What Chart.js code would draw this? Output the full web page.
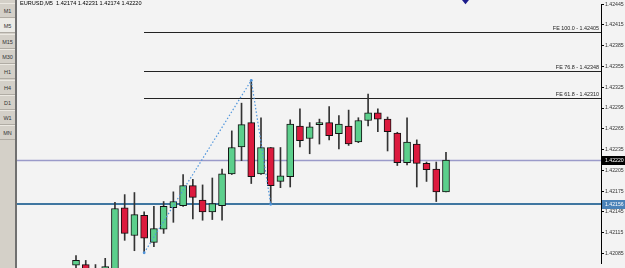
<!DOCTYPE html>
<html><head><meta charset="utf-8">
<script src="https://cdn.jsdelivr.net/npm/chart.js@4/dist/chart.umd.min.js"></script>
<style>
html,body{margin:0;padding:0;background:#f3f3f3;}
#wrap{position:relative;width:625px;height:268px;overflow:hidden;background:#f3f3f3;}
canvas{position:absolute;left:0;top:0;}
#tb{position:absolute;left:0;top:0;width:15px;height:268px;background:#d4d0c8;border-right:2px solid #707070;font-family:"Liberation Sans",sans-serif;}
.b{position:absolute;left:0;width:15px;height:14px;font-size:5.5px;color:#333;text-align:center;line-height:14px;border-bottom:1px solid #b0aca4;border-top:1px solid #ece9e2;box-sizing:border-box;}
.b.sel{background:#ecebe6;}
</style></head>
<body>
<div id="wrap">
<canvas id="c" width="625" height="268"></canvas>
<div id="tb"></div>
</div>
<script>
// ---- data ----
const periods = ["M1","M5","M15","M30","H1","H4","D1","W1","MN"];
const header = "EURUSD,M5  1.42174 1.42231 1.42174 1.42220";
const candleIdx = [0,1,2,3,4,5,6,7,8,9,10,11,12,13,14,15,16,17,18,19,20,21,22,23,24,25,26,27,28,29,30,31,32,33,34,35,36,37,38];
const opens  = [1.42068,1.42069,1.42048,1.42045,1.42040,1.42151,1.42111,1.42140,1.42101,1.42120,1.42151,1.42154,1.42183,1.42162,1.42145,1.42154,1.42200,1.42239,1.42274,1.42200,1.42238,1.42189,1.42196,1.42269,1.42251,1.42271,1.42274,1.42258,1.42269,1.42246,1.42277,1.42288,1.42279,1.42259,1.42216,1.42243,1.42215,1.42207,1.42174];
const highs  = [1.42082,1.42075,1.42069,1.42078,1.42159,1.42170,1.42173,1.42145,1.42153,1.42160,1.42174,1.42199,1.42192,1.42184,1.42194,1.42207,1.42262,1.42302,1.42335,1.42281,1.42238,1.42238,1.42278,1.42294,1.42274,1.42279,1.42297,1.42284,1.42292,1.42281,1.42315,1.42294,1.42282,1.42260,1.42281,1.42249,1.42217,1.42217,1.42231];
const lows   = [1.42062,1.42048,1.42042,1.42040,1.42036,1.42104,1.42089,1.42086,1.42095,1.42114,1.42130,1.42153,1.42135,1.42133,1.42134,1.42133,1.42199,1.42219,1.42186,1.42199,1.42156,1.42180,1.42181,1.42239,1.42229,1.42243,1.42249,1.42236,1.42241,1.42245,1.42269,1.42261,1.42233,1.42212,1.42213,1.42181,1.42189,1.42160,1.42174];
const closes = [1.42075,1.42055,1.42058,1.42066,1.42150,1.42114,1.42141,1.42107,1.42121,1.42153,1.42160,1.42183,1.42166,1.42145,1.42157,1.42200,1.42238,1.42271,1.42196,1.42238,1.42183,1.42197,1.42272,1.42248,1.42268,1.42274,1.42255,1.42272,1.42243,1.42277,1.42288,1.42279,1.42261,1.42216,1.42246,1.42215,1.42206,1.42174,1.42220];
const yTicks = [1.42445,1.42415,1.42385,1.42355,1.42325,1.42295,1.42265,1.42235,1.42205,1.42175,1.42145,1.42115,1.42085];
// Fibonacci expansion anchor points (candle index, price)
const feIdx = [7, 18, 20];
const fePrice = [1.42086, 1.42335, 1.42156];
const feNames = ["FE 100.0", "FE 76.8", "FE 61.8"];
const feLevels = [1.42405, 1.42348, 1.42310];
// horizontal lines
const bidLine = 1.42220;
const supportLine = 1.42156;
// arrow object
const arrowIdx = [40];
const arrowPrice = [1.42449];

// ---- toolbar ----
const tb = document.getElementById('tb');
periods.forEach((p,i)=>{
  const d=document.createElement('div');
  d.className='b'+(p==='M5'?' sel':'');
  d.style.top=(3+i*15.3)+'px';
  d.style.height='15px';
  d.style.lineHeight='14px';
  d.textContent=p;
  tb.appendChild(d);
});

const GREEN='#5ccf8c', RED='#dc1a3e';
const FONT='"Liberation Sans", sans-serif';
const CLIP={left:0, right:0, top:4, bottom:4};

const overlay = {
  id:'overlay',
  beforeDatasetsDraw(chart){
    const {ctx, chartArea:a, scales:{x,y}} = chart;
    ctx.save();
    const x0 = Math.round(x.getPixelForValue(feIdx[0]));
    ctx.font = '5.4px '+FONT;
    ctx.textAlign='right'; ctx.textBaseline='bottom';
    feLevels.forEach((v,i)=>{
      const py = Math.round(y.getPixelForValue(v))+0.5;
      ctx.strokeStyle='#222'; ctx.lineWidth=1;
      ctx.beginPath(); ctx.moveTo(x0,py); ctx.lineTo(a.right,py); ctx.stroke();
      ctx.fillStyle='#222';
      ctx.fillText(feNames[i]+' - '+v.toFixed(5), a.right-2, py-1);
    });
    let py = Math.round(y.getPixelForValue(bidLine))+0.5;
    ctx.strokeStyle='#9a9ac9'; ctx.lineWidth=1.5;
    ctx.beginPath(); ctx.moveTo(a.left,py); ctx.lineTo(a.right,py); ctx.stroke();
    py = Math.round(y.getPixelForValue(supportLine));
    ctx.strokeStyle='#3f76a0'; ctx.lineWidth=2;
    ctx.beginPath(); ctx.moveTo(a.left,py); ctx.lineTo(a.right,py); ctx.stroke();
    ctx.restore();
  },
  afterDraw(chart){
    const {ctx, chartArea:a, scales:{x,y}} = chart;
    ctx.save();
    ctx.font='5.2px '+FONT; ctx.textAlign='left'; ctx.textBaseline='middle';
    [[bidLine,'#000'],[supportLine,'#4a82b8']].forEach(([v,c])=>{
      const py=Math.round(y.getPixelForValue(v));
      ctx.fillStyle=c; ctx.fillRect(a.right+1,py-4,23,9);
      ctx.fillStyle='#fff'; ctx.fillText(v.toFixed(5), a.right+4, py+0.5);
    });
    ctx.font='5.6px '+FONT; ctx.fillStyle='#000'; ctx.textBaseline='top';
    ctx.fillText(header, a.left+3, 1);
    arrowIdx.forEach((ix,i)=>{
      const px=x.getPixelForValue(ix), py=y.getPixelForValue(arrowPrice[i]);
      ctx.fillStyle='#1c1c8c';
      ctx.beginPath(); ctx.moveTo(px-4,py-2); ctx.lineTo(px+4,py-2); ctx.lineTo(px,py+3); ctx.closePath(); ctx.fill();
    });
    ctx.restore();
  }
};

new Chart(document.getElementById('c'), {
  type:'bar',
  data:{
    datasets:[
      {type:'line', data:feIdx.map((v,i)=>({x:v,y:fePrice[i]})), borderColor:'#4f95dc', borderWidth:1.2, borderDash:[1.5,2],
       pointRadius:1.4, pointBackgroundColor:'#4f95dc', pointBorderWidth:0, order:0, clip:CLIP},
      {data:candleIdx.map(i=>({x:i,y:[opens[i],closes[i]]})), backgroundColor:candleIdx.map(i=>closes[i]>=opens[i]?GREEN:RED),
       borderColor:'#111', borderWidth:1, borderSkipped:false, barThickness:7, grouped:false, order:1, minBarLength:1, clip:CLIP},
      {data:candleIdx.map(i=>({x:i,y:[lows[i],highs[i]]})), backgroundColor:'#333', borderWidth:0, barThickness:1, grouped:false, order:2, clip:CLIP}
    ]
  },
  options:{
    responsive:false, animation:false, devicePixelRatio:1,
    layout:{padding:{left:17,top:0,right:0,bottom:0}},
    plugins:{legend:{display:false}, tooltip:{enabled:false}},
    scales:{
      x:{type:'linear', display:false, offset:false, min:-6.06, max:53.92},
      y:{position:'right', min:1.42070, max:1.42445,
         afterFit(s){ s.width=24; },
         afterBuildTicks(s){ s.ticks=yTicks.map(v=>({value:v})); },
         ticks:{font:{size:5.2,family:FONT}, color:'#333', padding:1, autoSkip:false, callback:v=>v.toFixed(5)},
         grid:{drawOnChartArea:false, tickLength:3, color:'#000'},
         border:{color:'#000', width:1}}
    }
  },
  plugins:[overlay]
});
</script>
</body></html>
